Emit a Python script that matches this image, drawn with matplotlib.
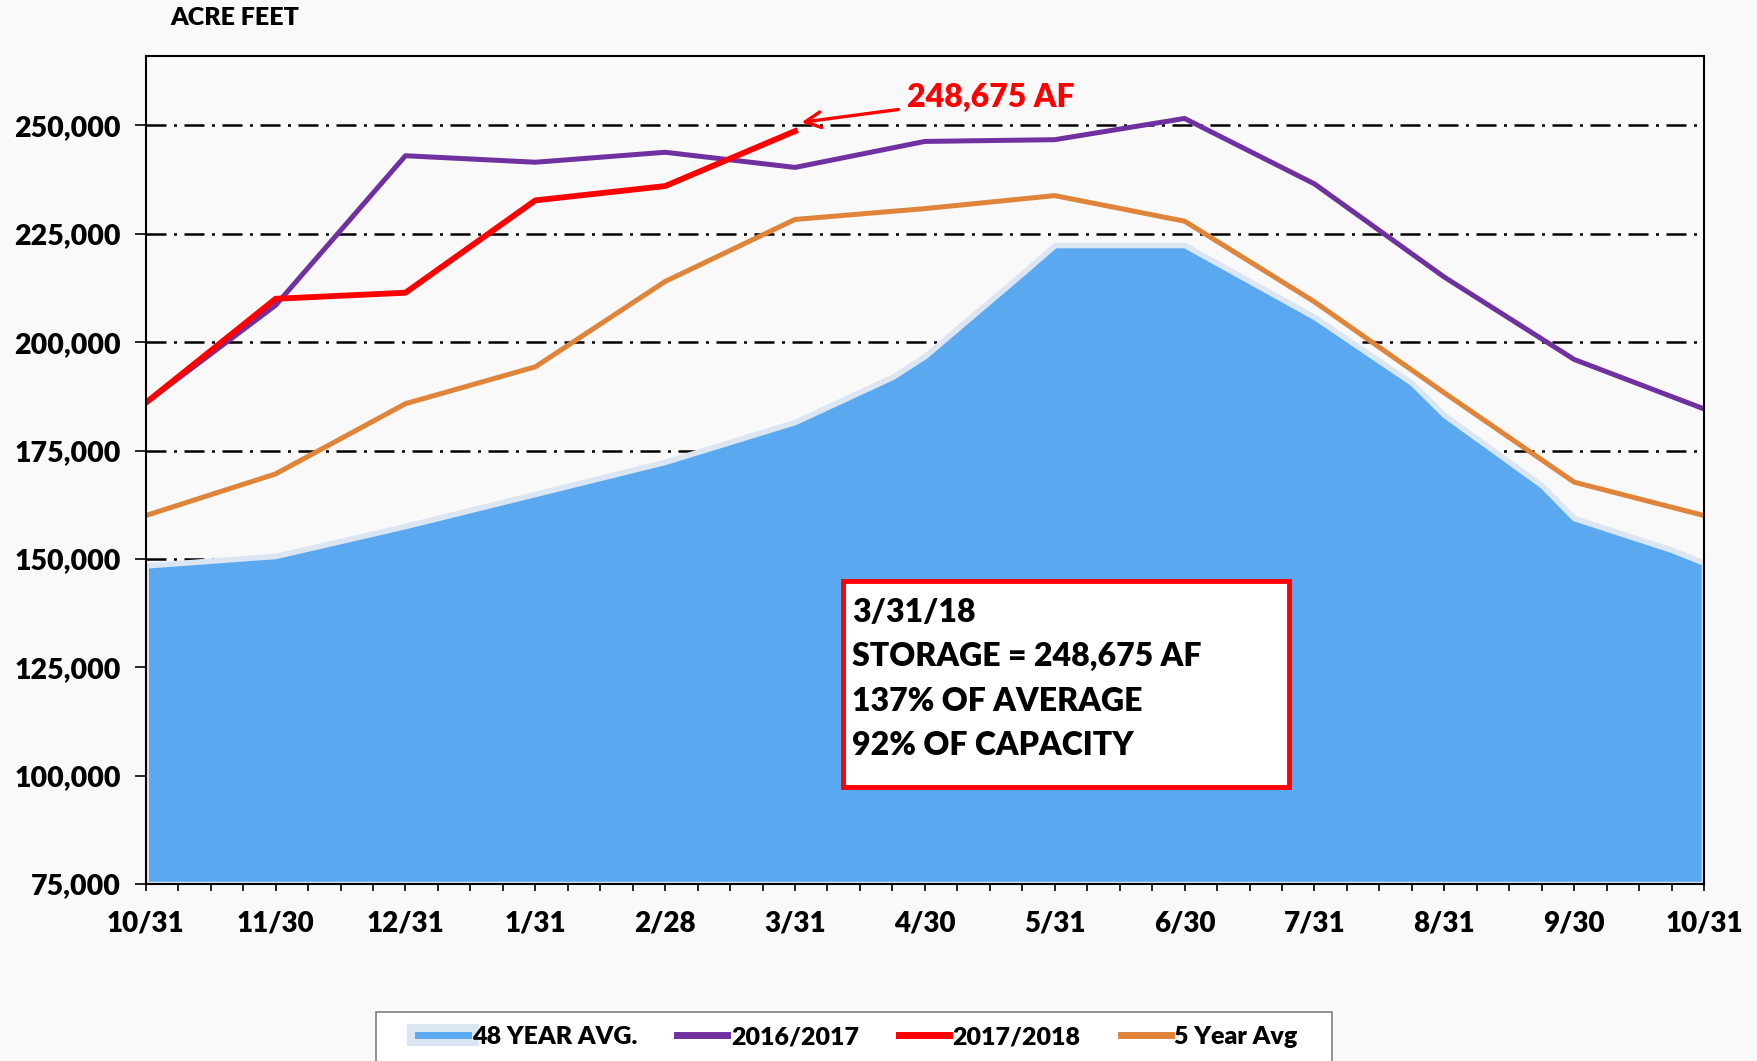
import matplotlib
matplotlib.use('Agg')
import matplotlib.pyplot as plt
import matplotlib.patheffects as pe
from matplotlib.lines import Line2D
from matplotlib.patches import Rectangle
from matplotlib.ticker import FuncFormatter, MultipleLocator

plt.rcParams['font.family'] = ['Lato', 'DejaVu Sans']
plt.rcParams['font.weight'] = 'heavy'
W = 'heavy'

# data
months = ['10/31', '11/30', '12/31', '1/31', '2/28', '3/31', '4/30',
          '5/31', '6/30', '7/31', '8/31', '9/30', '10/31']
# 48 year average has a few extra points between month ends (x in months from 10/31)
avg48_x = [0, 1, 2, 3, 4, 5, 5.75, 6, 6.75, 7, 8, 9, 9.75, 10, 10.75, 11, 11.75, 12]
avg48 = [148500, 150700, 157600, 165000, 172400, 181600, 192000, 196800, 215900,
         222400, 222400, 205800, 190600, 183200, 167000, 159400, 152100, 149100]
y2016_17 = [186000, 208500, 243000, 241500, 243800, 240300, 246300,
            246700, 251600, 236500, 215000, 196000, 184600]
y2017_18 = [186000, 210000, 211400, 232700, 236000, 248675]
avg5 = [160000, 169600, 185800, 194300, 214000, 228300, 230800,
        233800, 227900, 209300, 188300, 167700, 160000]

box_lines = ['3/31/18', 'STORAGE = 248,675 AF', '137% OF AVERAGE', '92% OF CAPACITY']

blue = '#5aa9f0'
light = '#dce6f2'
purple = '#7030a0'
red = '#ff0000'
orange = '#e0843a'
bg = '#f9f9f9'

fig = plt.figure(figsize=(17.58, 10.61), dpi=100, facecolor=bg)
ax = fig.add_axes([0.0829, 0.1668, 0.8864, 0.7804], facecolor=bg)

ax.fill_between(avg48_x, avg48, 75000, facecolor=blue, edgecolor=light,
                linewidth=4, zorder=2)
ax.plot(range(len(y2016_17)), y2016_17, color=purple, lw=3.6, zorder=3)
ax.plot(range(len(y2017_18)), y2017_18, color=red, lw=4.2, zorder=4)
ax.plot(range(len(avg5)), avg5, color=orange, lw=3.6, zorder=3)

ax.set_xlim(0, 12)
ax.set_ylim(75000, 266000)
ax.set_xticks(range(13))
ax.set_xticklabels(months)
ax.xaxis.set_minor_locator(MultipleLocator(0.25))
ax.yaxis.set_major_locator(MultipleLocator(25000))
ax.yaxis.set_major_formatter(FuncFormatter(lambda v, p: f'{int(v):,}'))
ax.tick_params(axis='x', which='both', direction='inout', length=10, width=1.2,
               labelsize=20, pad=14)
ax.tick_params(axis='y', direction='out', length=8, width=1.2, labelsize=20.5, pad=10)
for lab in ax.get_xticklabels() + ax.get_yticklabels():
    lab.set_fontweight(W)
ax.grid(axis='y', color='black', lw=1.8, dashes=(8, 3, 1.2, 3), zorder=1)
ax.set_axisbelow(True)
for s in ax.spines.values():
    s.set_linewidth(1.5)
    s.set_zorder(5)

fig.text(0.097, 0.983, 'ACRE FEET', fontsize=18, fontweight=W, va='center')

ax.annotate('248,675 AF', xy=(5.05, 250700), xytext=(5.86, 256500),
            color=red, fontsize=23, fontweight=W, va='center', ha='left',
            arrowprops=dict(arrowstyle='->', color=red, lw=2.4,
                            mutation_scale=28, shrinkA=4, shrinkB=0))

ax.add_patch(Rectangle((0.4475, 0.117), 0.2862, 0.249, transform=ax.transAxes,
                       facecolor='white', edgecolor=red, lw=3.5, zorder=6))
for i, t in enumerate(box_lines):
    ax.text(0.4535, 0.328 - i * 0.0535, t, transform=ax.transAxes, fontsize=23,
            fontweight=W, va='center', ha='left', zorder=7)

# legend frame runs off the bottom edge of the picture
fig.patches.append(Rectangle((0.2137, -0.05), 0.544, 0.0962, transform=fig.transFigure,
                             facecolor='white', edgecolor='#7f7f7f', lw=1.2, zorder=0))

handles = [
    Line2D([], [], color=blue, lw=5,
           path_effects=[pe.Stroke(linewidth=16, foreground=light), pe.Normal()]),
    Line2D([], [], color=purple, lw=5),
    Line2D([], [], color=red, lw=5),
    Line2D([], [], color=orange, lw=5),
]
labels = ['48 YEAR AVG.', '2016/2017', '2017/2018', '5 Year Avg']
leg = fig.legend(handles, labels, loc='center', bbox_to_anchor=(0.488, 0.0226),
                 ncol=4, frameon=False, prop={'size': 18, 'weight': W},
                 handlelength=2.0, handletextpad=0.15, columnspacing=1.6,
                 borderpad=0, borderaxespad=0)

fig.savefig('out.png', dpi=100, facecolor=bg)
